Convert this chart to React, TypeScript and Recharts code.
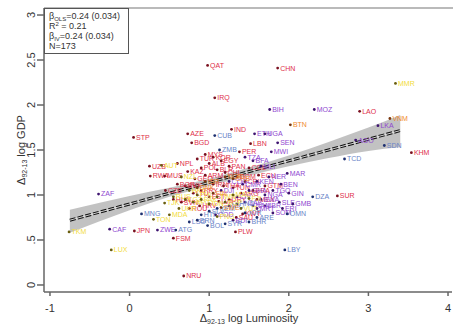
import React from "react";
import {
  ComposedChart,
  Scatter,
  Line,
  Area,
  XAxis,
  YAxis,
} from "recharts";

type Pt = { x: number; y: number; c: string };

// countries grouped by label colour
const redPts: Pt[] = [
  { x: 0.98, y: 2.44, c: "QAT" }, { x: 1.86, y: 2.41, c: "CHN" }, { x: 1.07, y: 2.08, c: "IRQ" },
  { x: 2.89, y: 1.93, c: "LAO" }, { x: 3.54, y: 1.47, c: "KHM" }, { x: 0.05, y: 1.64, c: "STP" },
  { x: 0.73, y: 1.68, c: "AZE" }, { x: 0.78, y: 1.58, c: "BGD" }, { x: 1.28, y: 1.73, c: "IND" },
  { x: 1.52, y: 1.57, c: "LBN" }, { x: 0.25, y: 1.32, c: "UZB" }, { x: 0.6, y: 1.35, c: "NPL" },
  { x: 0.26, y: 1.21, c: "RWA" }, { x: 0.44, y: 1.21, c: "MUS" }, { x: 0.73, y: 1.26, c: "KAZ" },
  { x: 0.06, y: 0.6, c: "JPN" }, { x: 0.55, y: 0.52, c: "FSM" }, { x: 0.68, y: 0.1, c: "NRU" },
  { x: 1.33, y: 0.59, c: "PLW" }, { x: 2.61, y: 0.99, c: "SUR" }, { x: 0.85, y: 1.4, c: "TUR" },
  { x: 0.95, y: 1.45, c: "MYS" }, { x: 1.05, y: 1.42, c: "KOR" }, { x: 0.9, y: 1.3, c: "POL" },
  { x: 1.0, y: 1.35, c: "ALB" }, { x: 1.15, y: 1.38, c: "EGY" }, { x: 0.82, y: 1.18, c: "GEO" },
  { x: 0.95, y: 1.22, c: "ARM" }, { x: 1.1, y: 1.28, c: "BLR" }, { x: 1.2, y: 1.25, c: "CHL" },
  { x: 1.25, y: 1.32, c: "PAN" }, { x: 1.35, y: 1.2, c: "DOM" }, { x: 1.05, y: 1.12, c: "IRN" },
  { x: 1.18, y: 1.1, c: "THA" }, { x: 1.3, y: 1.08, c: "TUN" }, { x: 0.9, y: 1.05, c: "PRY" },
  { x: 1.45, y: 1.15, c: "CRI" }, { x: 0.7, y: 1.1, c: "SVK" }, { x: 0.8, y: 1.02, c: "LTU" },
  { x: 1.0, y: 0.98, c: "EST" }, { x: 1.12, y: 0.93, c: "LVA" }, { x: 0.65, y: 0.92, c: "SVN" },
  { x: 0.55, y: 0.95, c: "HUN" }, { x: 0.45, y: 1.05, c: "CZE" }, { x: 0.6, y: 1.12, c: "BGR" },
  { x: 0.75, y: 0.85, c: "ROU" }, { x: 0.88, y: 0.88, c: "HRV" }, { x: 1.25, y: 0.95, c: "URY" },
  { x: 1.4, y: 1.02, c: "ARG" }, { x: 1.55, y: 1.05, c: "BRA" }, { x: 1.6, y: 0.95, c: "MEX" },
  { x: 1.38, y: 1.48, c: "PER" }, { x: 1.5, y: 1.3, c: "COL" }, { x: 1.62, y: 1.22, c: "ECU" },
  { x: 1.7, y: 1.1, c: "GTM" }, { x: 1.34, y: 0.75, c: "SAU" }, { x: 1.42, y: 0.79, c: "KWT" },
];

const purplePts: Pt[] = [
  { x: 1.76, y: 1.95, c: "BIH" }, { x: 2.32, y: 1.95, c: "MOZ" }, { x: 3.12, y: 1.77, c: "LKA" },
  { x: 2.84, y: 1.61, c: "AGO" }, { x: 1.57, y: 1.68, c: "ETH" }, { x: 1.7, y: 1.68, c: "UGA" },
  { x: 1.86, y: 1.58, c: "SEN" }, { x: 1.78, y: 1.48, c: "MWI" }, { x: -0.39, y: 1.01, c: "ZAF" },
  { x: -0.25, y: 0.62, c: "CAF" }, { x: 0.35, y: 0.61, c: "ZWE" }, { x: 1.98, y: 1.24, c: "MAR" },
  { x: 1.9, y: 1.12, c: "BEN" }, { x: 1.8, y: 1.05, c: "TGO" }, { x: 1.75, y: 1.2, c: "NER" },
  { x: 1.65, y: 1.32, c: "MLI" }, { x: 1.55, y: 1.38, c: "BFA" }, { x: 1.45, y: 1.42, c: "TZA" },
  { x: 1.6, y: 1.15, c: "KEN" }, { x: 1.7, y: 1.0, c: "NGA" }, { x: 1.5, y: 1.05, c: "GHA" },
  { x: 1.42, y: 1.12, c: "CMR" }, { x: 1.35, y: 0.98, c: "CIV" }, { x: 1.88, y: 0.92, c: "SLE" },
  { x: 2.0, y: 1.02, c: "GIN" }, { x: 1.7, y: 0.88, c: "LBR" }, { x: 1.55, y: 0.88, c: "NAM" },
  { x: 1.65, y: 0.95, c: "BWA" }, { x: 1.25, y: 1.15, c: "COG" }, { x: 1.45, y: 0.92, c: "GAB" },
  { x: 1.15, y: 1.05, c: "DJI" }, { x: 1.92, y: 0.85, c: "ERI" }, { x: 1.8, y: 0.8, c: "SOM" },
  { x: 2.05, y: 0.9, c: "GMB" }, { x: 1.6, y: 0.85, c: "MRT" }, { x: 1.3, y: 0.72, c: "BDI" },
  { x: 1.08, y: 0.78, c: "COD" },
];

const bluePts: Pt[] = [
  { x: 1.07, y: 1.66, c: "CUB" }, { x: 1.13, y: 1.5, c: "ZMB" }, { x: 0.15, y: 0.79, c: "MNG" },
  { x: 0.58, y: 0.61, c: "ATG" }, { x: 0.98, y: 0.66, c: "BOL" }, { x: 1.95, y: 0.39, c: "LBY" },
  { x: 1.98, y: 0.79, c: "OMN" }, { x: 2.3, y: 0.98, c: "DZA" }, { x: 2.7, y: 1.4, c: "TCD" },
  { x: 3.2, y: 1.55, c: "SDN" }, { x: 0.75, y: 0.7, c: "LSO" }, { x: 0.85, y: 0.72, c: "BRN" },
  { x: 1.2, y: 0.68, c: "SYR" }, { x: 1.45, y: 0.8, c: "JOR" }, { x: 1.1, y: 0.85, c: "YEM" },
  { x: 1.6, y: 0.75, c: "ARE" }, { x: 1.5, y: 0.7, c: "BHR" }, { x: 0.9, y: 0.78, c: "HTI" },
  { x: 1.25, y: 0.88, c: "NIC" }, { x: 1.35, y: 0.9, c: "HND" }, { x: 1.0, y: 0.82, c: "SLV" },
];

const yellowPts: Pt[] = [
  { x: 3.34, y: 2.24, c: "MMR" }, { x: -0.76, y: 0.59, c: "TKM" }, { x: -0.23, y: 0.39, c: "LUX" },
  { x: 0.44, y: 0.91, c: "TJK" }, { x: 0.55, y: 0.98, c: "RUS" }, { x: 0.62, y: 0.85, c: "UKR" },
  { x: 0.5, y: 0.78, c: "MDA" }, { x: 0.7, y: 0.95, c: "KGZ" }, { x: 0.8, y: 0.92, c: "AFG" },
  { x: 0.9, y: 0.95, c: "PAK" }, { x: 1.0, y: 0.9, c: "IDN" }, { x: 0.85, y: 1.0, c: "PHL" },
  { x: 1.1, y: 0.98, c: "TWN" }, { x: 1.2, y: 0.92, c: "SGP" }, { x: 0.75, y: 1.05, c: "HKG" },
  { x: 1.3, y: 1.0, c: "MAC" }, { x: 0.65, y: 1.2, c: "NZL" }, { x: 0.4, y: 1.33, c: "AUT" },
  { x: 1.5, y: 0.96, c: "FJI" }, { x: 1.1, y: 0.76, c: "PNG" }, { x: 1.4, y: 0.85, c: "VUT" },
  { x: 0.3, y: 0.73, c: "TON" },
];

const orangePts: Pt[] = [
  { x: 2.02, y: 1.78, c: "BTN" }, { x: 3.27, y: 1.85, c: "VNM" }, { x: 0.95, y: 1.15, c: "ISR" },
  { x: 1.2, y: 1.2, c: "NOR" }, { x: 0.85, y: 1.08, c: "DNK" }, { x: 1.05, y: 1.02, c: "FIN" },
  { x: 1.15, y: 0.86, c: "SWE" }, { x: 1.3, y: 1.18, c: "CHE" },
];

// fitted line and its confidence band
const fitX = [-0.75, 3.4];
const fitY = [0.72, 1.716];
const bandX = [-0.75, 0, 0.5, 1.0, 1.5, 2.0, 2.5, 3.0, 3.4];
const bandLo = [0.58, 0.83, 0.98, 1.1, 1.215, 1.32, 1.41, 1.49, 1.53];
const bandHi = [0.835, 0.99, 1.08, 1.18, 1.305, 1.44, 1.59, 1.75, 1.89];

const xTicks = [-1, 0, 1, 2, 3, 4];
const yTicks = [0, 0.5, 1, 1.5, 2, 2.5, 3];

const fitData = fitX.map((x, i) => ({ x, y: fitY[i] }));
const bandData = bandX.map((x, i) => ({ x, band: [bandLo[i], bandHi[i]] }));

const FONT = "'Liberation Sans', Arial, sans-serif";

const makeShape = (dot: string, label: string) => (props: any) => {
  const { cx, cy, payload } = props;
  if (cx == null || cy == null) return <g />;
  return (
    <g>
      <circle cx={cx} cy={cy} r={1.4} fill={dot} />
      <text x={cx + 2.5} y={cy + 2.4} fontSize={7} fontFamily={FONT} fill={label}>
        {payload.c}
      </text>
    </g>
  );
};

const YTick = ({ y, payload }: any) => (
  <text
    x={31}
    y={y}
    dy="0.35em"
    transform={`rotate(-90, 31, ${y})`}
    textAnchor="middle"
    fontSize={11}
    fontFamily={FONT}
    fill="#333"
  >
    {payload.value === 0.5 ? ".5" : String(payload.value)}
  </text>
);

const XTick = ({ x, y, payload }: any) => (
  <text x={x} y={y + 14} textAnchor="middle" fontSize={11} fontFamily={FONT} fill="#333">
    {String(payload.value)}
  </text>
);

export default function App() {
  return (
    <div style={{ position: "absolute", left: 0, top: 0, width: 453, height: 328, background: "#fff" }}>
      <ComposedChart
        width={453}
        height={328}
        margin={{ top: 8, right: 1, left: 0, bottom: 0 }}
      >
        <XAxis
          type="number"
          dataKey="x"
          domain={[-1.075, 4.05]}
          ticks={xTicks}
          allowDataOverflow
          height={36}
          tickSize={4}
          tick={<XTick />}
          stroke="#666"
          strokeWidth={1.5}
        />
        <YAxis
          type="number"
          domain={[-0.078, 3.078]}
          ticks={yTicks}
          allowDataOverflow
          width={44}
          tickSize={7}
          tick={<YTick />}
          stroke="#666"
          strokeWidth={1.5}
        />
        <Scatter data={redPts} dataKey="y" fill="#8a1020" shape={makeShape("#7a1020", "#e0304a")} isAnimationActive={false} />
        <Scatter data={purplePts} dataKey="y" fill="#4a1a80" shape={makeShape("#3e1470", "#9048d0")} isAnimationActive={false} />
        <Scatter data={bluePts} dataKey="y" fill="#203a80" shape={makeShape("#1e3070", "#6a84c8")} isAnimationActive={false} />
        <Scatter data={yellowPts} dataKey="y" fill="#8a7a10" shape={makeShape("#6a5e10", "#f2dc40")} isAnimationActive={false} />
        <Scatter data={orangePts} dataKey="y" fill="#8a4010" shape={makeShape("#7a3810", "#f08a30")} isAnimationActive={false} />
        <Area
          data={bandData}
          dataKey="band"
          type="monotone"
          stroke="none"
          fill="#9a9a9a"
          fillOpacity={0.6}
          isAnimationActive={false}
        />
        <Line
          data={fitData}
          dataKey="y"
          stroke="#111"
          strokeWidth={3}
          strokeDasharray="6 2"
          dot={false}
          isAnimationActive={false}
        />
        <Line
          data={fitData}
          dataKey="y"
          stroke="#e8e8e8"
          strokeWidth={0.9}
          dot={false}
          isAnimationActive={false}
        />
      </ComposedChart>
      <svg
        width={453}
        height={328}
        style={{ position: "absolute", left: 0, top: 0, pointerEvents: "none" }}
        fontFamily={FONT}
      >
        <line x1={44} y1={8} x2={453} y2={8} stroke="#777" strokeWidth={1.2} />
        <rect x={44.5} y={8.5} width={84} height={45} fill="#fff" stroke="#555" strokeWidth={1} />
        <g fontSize={9} fill="#333">
          <text x={49} y={19}>
            β<tspan fontSize={6} dy={2}>OLS</tspan>
            <tspan dy={-2}>=0.24 (0.034)</tspan>
          </text>
          <text x={49} y={29}>
            R<tspan fontSize={6} dy={-3}>2</tspan>
            <tspan dy={3}> = 0.21</tspan>
          </text>
          <text x={49} y={39}>
            β<tspan fontSize={6} dy={2}>IV</tspan>
            <tspan dy={-2}>=0.24 (0.034)</tspan>
          </text>
          <text x={49} y={49}>N=173</text>
        </g>
        <text
          x={21}
          y={150}
          transform="rotate(-90, 21, 150)"
          textAnchor="middle"
          dy="0.35em"
          fontSize={11}
          fill="#333"
        >
          Δ<tspan fontSize={7} dy={2}>92-13</tspan>
          <tspan dy={-2}> log GDP</tspan>
        </text>
        <text x={249} y={322} textAnchor="middle" fontSize={11} fill="#333">
          Δ<tspan fontSize={7} dy={2}>92-13</tspan>
          <tspan dy={-2}> log Luminosity</tspan>
        </text>
      </svg>
    </div>
  );
}
